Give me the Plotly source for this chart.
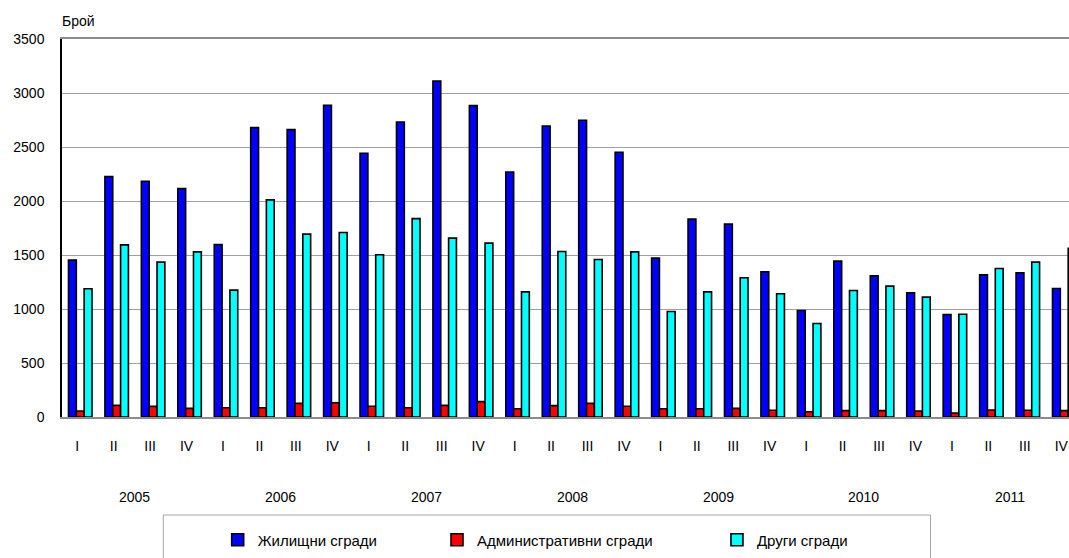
import plotly.graph_objects as go

# ---- data ----
years = ["2005", "2006", "2007", "2008", "2009", "2010", "2011"]
quarters = ["I", "II", "III", "IV"]
quarter_labels = quarters * len(years)

housing = [1453, 2226, 2183, 2115, 1597, 2679, 2661, 2886,
           2442, 2732, 3111, 2883, 2269, 2695, 2748, 2452,
           1471, 1832, 1786, 1344, 986, 1443, 1307, 1150,
           949, 1316, 1335, 1190]
admin = [55, 108, 98, 80, 86, 86, 126, 132,
         99, 86, 108, 142, 77, 105, 126, 99,
         77, 76, 80, 62, 49, 59, 59, 55,
         37, 65, 62, 59]
other = [1188, 1594, 1434, 1529, 1175, 2010, 1693, 1708,
         1502, 1837, 1656, 1610, 1159, 1532, 1458, 1529,
         977, 1159, 1289, 1141, 866, 1171, 1212, 1110,
         951, 1375, 1434, 1563]

series_names = ["Жилищни сгради", "Административни сгради", "Други сгради"]
series_colors = ["#0000FF", "#FF0000", "#00FFFF"]
y_ticks = [0, 500, 1000, 1500, 2000, 2500, 3000, 3500]
y_title = "Брой"

FONT = "Arial, 'Liberation Sans', sans-serif"

pos = list(range(len(housing)))

fig = go.Figure()
legend_ids = ["legend", "legend2", "legend3"]
for vals, name, col, lg in zip([housing, admin, other], series_names, series_colors, legend_ids):
    fig.add_trace(go.Bar(
        x=pos, y=vals, name=name, legend=lg,
        marker=dict(color=col, line=dict(color="black", width=1.6)),
    ))

# year labels centred under each group of quarters
annotations = []
for i, yr in enumerate(years):
    grp = pos[i * 4:(i + 1) * 4]
    annotations.append(dict(
        x=sum(grp) / len(grp), y=-0.2116, xref="x", yref="paper",
        text=yr, showarrow=False, xanchor="center", yanchor="middle",
        font=dict(size=14, color="black", family=FONT)))
annotations.append(dict(
    x=-0.002, y=1.0476, xref="paper", yref="paper", text=y_title,
    showarrow=False, xanchor="left", yanchor="middle",
    font=dict(size=14, color="black", family=FONT)))

leg_common = dict(orientation="h", yref="paper", y=-0.3254, yanchor="middle",
                  xanchor="left", bgcolor="rgba(0,0,0,0)", borderwidth=0,
                  font=dict(size=15, color="black", family=FONT))

fig.update_layout(
    width=1069, height=558,
    margin=dict(l=62, r=0, t=39, b=141, autoexpand=False),
    paper_bgcolor="white", plot_bgcolor="white",
    barmode="group", bargap=0.355, bargroupgap=0,
    font=dict(family=FONT, size=14, color="black"),
    showlegend=True,
    legend=dict(x=0.1546, **leg_common),
    legend2=dict(x=0.3724, **leg_common),
    legend3=dict(x=0.6504, **leg_common),
    annotations=annotations,
    shapes=[dict(type="rect", xref="paper", yref="paper",
                 x0=0.1006, x1=0.8625, y0=-0.2593, y1=-0.6,
                 line=dict(color="#a6a6a6", width=1), layer="below")],
    xaxis=dict(
        range=[-0.5, 27.13], tickmode="array", tickvals=pos, ticktext=quarter_labels,
        showgrid=False, zeroline=False, showline=True, linecolor="#8c8c8c",
        linewidth=1.5, mirror=True, ticks="", ticklabelstandoff=15,
        ticklabelshift=-3, ticklabeloverflow="allow",
        tickfont=dict(size=14, color="black", family=FONT)),
    yaxis=dict(
        range=[0, 3500], tickmode="array", tickvals=y_ticks,
        showgrid=True, gridcolor="#a0a0a0", gridwidth=1, zeroline=False,
        showline=True, linecolor="black", linewidth=1.5, ticks="",
        ticklabelstandoff=13,
        tickfont=dict(size=14, color="black", family=FONT)),
)

fig.write_html(
    "out.html",
    config={"displayModeBar": False},
    post_script="document.body.style.margin='0';document.body.style.overflow='hidden';",
)
